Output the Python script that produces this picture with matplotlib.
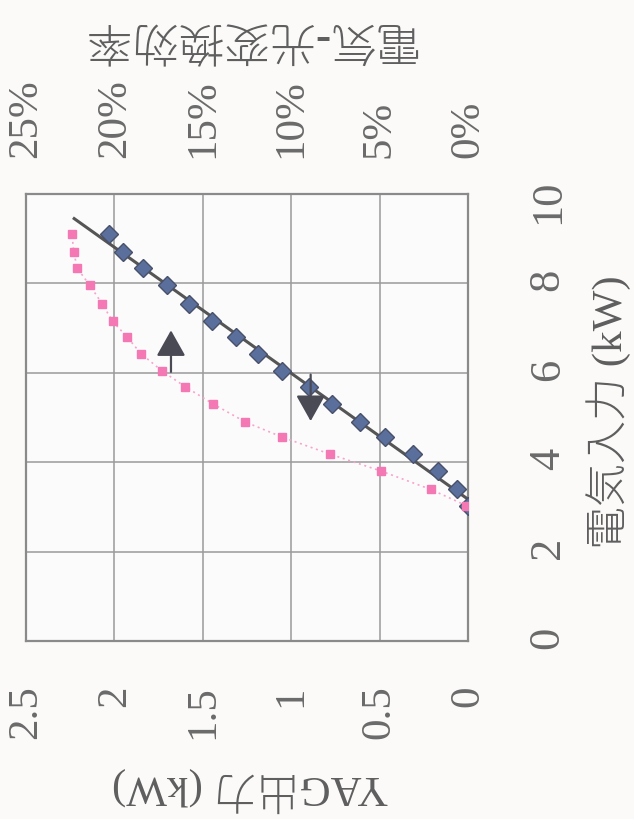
import numpy as np
import matplotlib
matplotlib.use("Agg")
import matplotlib.pyplot as plt

# ---- data ----
input_kw = [3.03, 3.39, 3.80, 4.18, 4.56, 4.90, 5.30, 5.69, 6.04, 6.43,
            6.81, 7.15, 7.55, 7.96, 8.34, 8.70, 9.10]
yag_out_kw = [0.00, 0.06, 0.17, 0.31, 0.47, 0.61, 0.77, 0.90, 1.05, 1.19,
              1.31, 1.45, 1.58, 1.70, 1.84, 1.95, 2.03]
efficiency_pct = [0.1, 2.1, 4.9, 7.8, 10.5, 12.6, 14.4, 16.0, 17.3, 18.5,
                  19.3, 20.1, 20.7, 21.4, 22.1, 22.3, 22.4]

yag_ticks = [0, 0.5, 1, 1.5, 2, 2.5]
yag_ticklabels = ["0", "0.5", "1", "1.5", "2", "2.5"]
input_ticks = [0, 2, 4, 6, 8, 10]
eff_ticks = [0, 5, 10, 15, 20, 25]
eff_ticklabels = ["0%", "5%", "10%", "15%", "20%", "25%"]

label_input = "電気入力 (kW)"
label_yag = "YAG出力 (kW)"
label_eff = "電気-光変換効率"

trend_range = [2.95, 9.45]
arrow_up = (1.68, 6.02, 6.95)    # x (kW out), y start, y tip
arrow_down = (0.89, 5.96, 4.92)

# ---- style ----
W, H = 634, 820
serif = ["Liberation Serif", "Noto Sans CJK JP", "DejaVu Sans"]
plt.rcParams["font.family"] = serif
tick_col = "#6a6a6a"
lab_col = "#5e5e5e"

fig = plt.figure(figsize=(W / 100, H / 100), dpi=100)
fig.patch.set_facecolor("#fbfaf9")

L, R, T, B = 26, 468, 195, 642
ax = fig.add_axes([L / W, 1 - B / H, (R - L) / W, (B - T) / H])
ax.set_facecolor("#fcfbfb")
ax.set_xlim(2.5, 0)
ax.set_ylim(0, 10)
ax.set_xticks(yag_ticks)
ax.set_xticklabels(yag_ticklabels)
ax.set_yticks(input_ticks)
ax.yaxis.tick_right()
ax.grid(True, color="#9a9a9a", lw=1.1)
ax.set_axisbelow(True)
for s in ax.spines.values():
    s.set_color("#8a8a8a")
    s.set_linewidth(1.6)
ax.tick_params(axis="x", bottom=True, top=False, length=0, pad=31,
               labelrotation=90, labelsize=31, labelcolor=tick_col)
ax.tick_params(axis="y", left=False, right=True, length=0, pad=43,
               labelrotation=90, labelsize=32, labelcolor=tick_col)

# trend line (linear fit of the blue data)
coef = np.polyfit(input_kw, yag_out_kw, 1)
yy = np.array(trend_range)
ax.plot(np.polyval(coef, yy), yy, color="#555555", lw=2.2, zorder=3)

ax.plot(yag_out_kw, input_kw, linestyle="none", marker="D", markersize=9,
        markerfacecolor="#5b6f9c", markeredgecolor="#48506a",
        markeredgewidth=1.0, zorder=4)

# arrows
for (xa, y0, y1) in (arrow_up, arrow_down):
    ax.annotate("", xy=(xa, y1), xytext=(xa, y0),
                arrowprops=dict(arrowstyle="-|>,head_length=0.8,head_width=0.45",
                                color="#4a4a55", lw=1.6, mutation_scale=20,
                                shrinkA=0, shrinkB=0), zorder=5)

# efficiency axis (top)
ax2 = ax.twiny()
ax2.set_xlim(25, 0)
ax2.set_xticks(eff_ticks)
ax2.set_xticklabels(eff_ticklabels)
for s in ax2.spines.values():
    s.set_visible(False)
ax2.tick_params(axis="x", top=True, bottom=False, length=0, pad=27,
                labelrotation=90, labelsize=31, labelcolor=tick_col)
ax2.plot(efficiency_pct, input_kw, linestyle=(0, (1.2, 2.2)), color="#f7a3cc",
         lw=1.2, marker="s", markersize=6, markerfacecolor="#f378b4",
         markeredgecolor="#f378b4", zorder=4)

# axis titles (rotated like the reference)
fig.text(247 / W, 1 - 37 / H, label_eff, rotation=180, ha="center", va="center",
         fontsize=33, color=lab_col, family=serif, fontweight="light")
fig.text(250 / W, 1 - 790 / H, label_yag, rotation=180, ha="center", va="center",
         fontsize=31, color=lab_col, family=serif, fontweight="light")
fig.text(609 / W, 1 - 412 / H, label_input, rotation=90, ha="center", va="center",
         fontsize=31, color=lab_col, family=serif, fontweight="light")

fig.savefig("out.png", dpi=100, facecolor=fig.get_facecolor())
